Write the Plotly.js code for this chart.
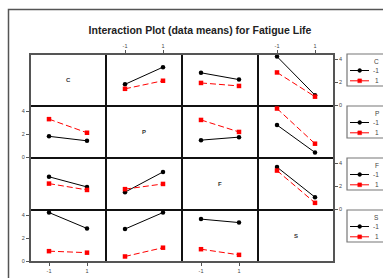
<!DOCTYPE html>
<html>
<head>
<meta charset="utf-8">
<script src="https://cdn.plot.ly/plotly-3.0.1.min.js"></script>
<style>html,body{margin:0;padding:0;background:#fff;}#chart{width:383px;height:278px;}</style>
</head>
<body>
<div id="chart"></div>
<script>
// ---- data ----
const factors = ['C', 'P', 'F', 'S'];
const levels = [-1, 1];
const levelLabels = ['-1', '1'];
const yTicks = [0, 2, 4];
// two-way means: rows = level of first factor (-1, 1), cols = level of second factor (-1, 1)
const meansCP = [[1.82, 3.31], [1.43, 2.13]];
const meansCF = [[2.82, 2.23], [1.94, 1.68]];
const meansCS = [[4.23, 0.88], [2.85, 0.75]];
const meansPF = [[1.49, 1.75], [3.24, 2.20]];
const meansPS = [[2.80, 0.42], [4.23, 1.18]];
const meansFS = [[3.66, 1.05], [3.36, 0.56]];
const titleText = 'Interaction Plot (data means) for Fatigue Life';

// ---- helpers ----
const W = 383, H = 278;
const pairTables = {
  'C|P': meansCP, 'C|F': meansCF, 'C|S': meansCS,
  'P|F': meansPF, 'P|S': meansPS, 'F|S': meansFS
};
function table(i, j) {
  const fi = factors[i], fj = factors[j];
  if (i < j) return pairTables[fi + '|' + fj];
  const t = pairTables[fj + '|' + fi];
  return [[t[0][0], t[1][0]], [t[0][1], t[1][1]]];
}
const px = x => x / W;
const py = y => 1 - y / H;

const gx0 = 30, gy0 = 54, cw = 76, ch = 52;
const FONT = 'Liberation Sans, Arial, sans-serif';
const traceStyles = [
  {line: {color: '#000', width: 1}, marker: {color: '#000', symbol: 'circle', size: 4.5}},
  {line: {color: '#ff0000', width: 1, dash: '6px,3px'}, marker: {color: '#ff0000', symbol: 'square', size: 4.5}}
];

const data = [];
const layout = {
  width: W, height: H,
  margin: {l: 0, r: 0, t: 0, b: 0},
  paper_bgcolor: '#fff', plot_bgcolor: '#fff',
  showlegend: false,
  font: {family: FONT, size: 6, color: '#444'},
  title: {text: '<b>' + titleText + '</b>', x: px(200), xanchor: 'center', y: py(30), yanchor: 'middle',
          font: {family: FONT, size: 10.5, color: '#222'}},
  shapes: [], annotations: []
};

for (let r = 0; r < 4; r++) {
  for (let c = 0; c < 4; c++) {
    const k = r * 4 + c + 1;
    const xs = k === 1 ? '' : String(k);
    const x0 = gx0 + cw * c, y0 = gy0 + ch * r;
    const topTicks = (r === 0 && c % 2 === 1);
    const botTicks = (r === 3 && c % 2 === 0);
    const leftTicks = (c === 0 && r % 2 === 1);
    const rightTicks = (c === 3 && r % 2 === 0);
    layout['xaxis' + xs] = {
      domain: [px(x0), px(x0 + cw)], anchor: 'y' + xs, range: [-2, 2],
      showgrid: false, zeroline: false, showline: true, mirror: true,
      linecolor: '#111', linewidth: 1, fixedrange: true,
      tickvals: levels, ticktext: levelLabels,
      ticks: (topTicks || botTicks) ? 'outside' : '', ticklen: 3, tickcolor: '#555', tickwidth: 1,
      showticklabels: topTicks || botTicks, side: topTicks ? 'top' : 'bottom',
      tickfont: {family: FONT, size: 5.5, color: '#444'}
    };
    layout['yaxis' + xs] = {
      domain: [py(y0 + ch), py(y0)], anchor: 'x' + xs, range: [-0.06, 4.45],
      showgrid: false, zeroline: false, showline: true, mirror: true,
      linecolor: '#111', linewidth: 1, fixedrange: true,
      tickvals: yTicks,
      ticks: (leftTicks || rightTicks) ? 'outside' : '', ticklen: 3, tickcolor: '#555', tickwidth: 1,
      showticklabels: leftTicks || rightTicks, side: rightTicks ? 'right' : 'left',
      tickfont: {family: FONT, size: 5.5, color: '#444'}
    };
    if (r === c) {
      layout.annotations.push({
        xref: 'x' + xs, yref: 'y' + xs, x: 0, y: 2.2, text: '<b>' + factors[r] + '</b>',
        showarrow: false, font: {family: FONT, size: 6, color: '#333'}
      });
    } else {
      const t = table(r, c);
      for (let a = 0; a < 2; a++) {
        data.push({
          type: 'scatter', mode: 'lines+markers', xaxis: 'x' + xs, yaxis: 'y' + xs,
          x: levels, y: t[a], name: factors[r] + ' ' + levelLabels[a], cliponaxis: false,
          line: traceStyles[a].line, marker: traceStyles[a].marker, hoverinfo: 'skip'
        });
      }
    }
  }
  // legend for row r (factor r)
  const T = gy0 + ch * r;
  layout.shapes.push({type: 'rect', xref: 'paper', yref: 'paper', x0: px(347), x1: px(395), y0: py(T + 32), y1: py(T),
    line: {color: '#777', width: 1.2}, fillcolor: 'rgba(0,0,0,0)'});
  layout.annotations.push({xref: 'paper', yref: 'paper', x: px(381), y: py(T + 7.7), xanchor: 'right', yanchor: 'middle',
    text: factors[r], showarrow: false, font: {family: FONT, size: 6.5, color: '#444'}});
  const ly = [T + 16.5, T + 26.8];
  for (let a = 0; a < 2; a++) {
    const st = traceStyles[a];
    layout.shapes.push({type: 'line', xref: 'paper', yref: 'paper', x0: px(350), x1: px(369), y0: py(ly[a]), y1: py(ly[a]),
      line: {color: st.line.color, width: 1}});
    layout.shapes.push({type: a === 0 ? 'circle' : 'rect', xref: 'paper', yref: 'paper',
      x0: px(357.8), x1: px(361.6), y0: py(ly[a] + 1.9), y1: py(ly[a] - 1.9),
      line: {color: st.marker.color, width: 0.5}, fillcolor: st.marker.color});
    layout.annotations.push({xref: 'paper', yref: 'paper', x: px(381), y: py(ly[a]), xanchor: 'right', yanchor: 'middle',
      text: levelLabels[a], showarrow: false, font: {family: FONT, size: 6.5, color: '#444'}});
  }
}
// grid outer border (grey) and page frame
layout.shapes.push({type: 'rect', xref: 'paper', yref: 'paper', x0: px(gx0), x1: px(gx0 + 4 * cw), y0: py(gy0 + 4 * ch), y1: py(gy0),
  line: {color: '#555', width: 2}, fillcolor: 'rgba(0,0,0,0)'});
layout.shapes.push({type: 'rect', xref: 'paper', yref: 'paper', x0: px(8.5), x1: px(420), y0: py(320), y1: py(9.5),
  line: {color: '#555', width: 1.5}, fillcolor: 'rgba(0,0,0,0)'});

Plotly.newPlot('chart', data, layout, {staticPlot: true, displayModeBar: false});
</script>
</body>
</html>
